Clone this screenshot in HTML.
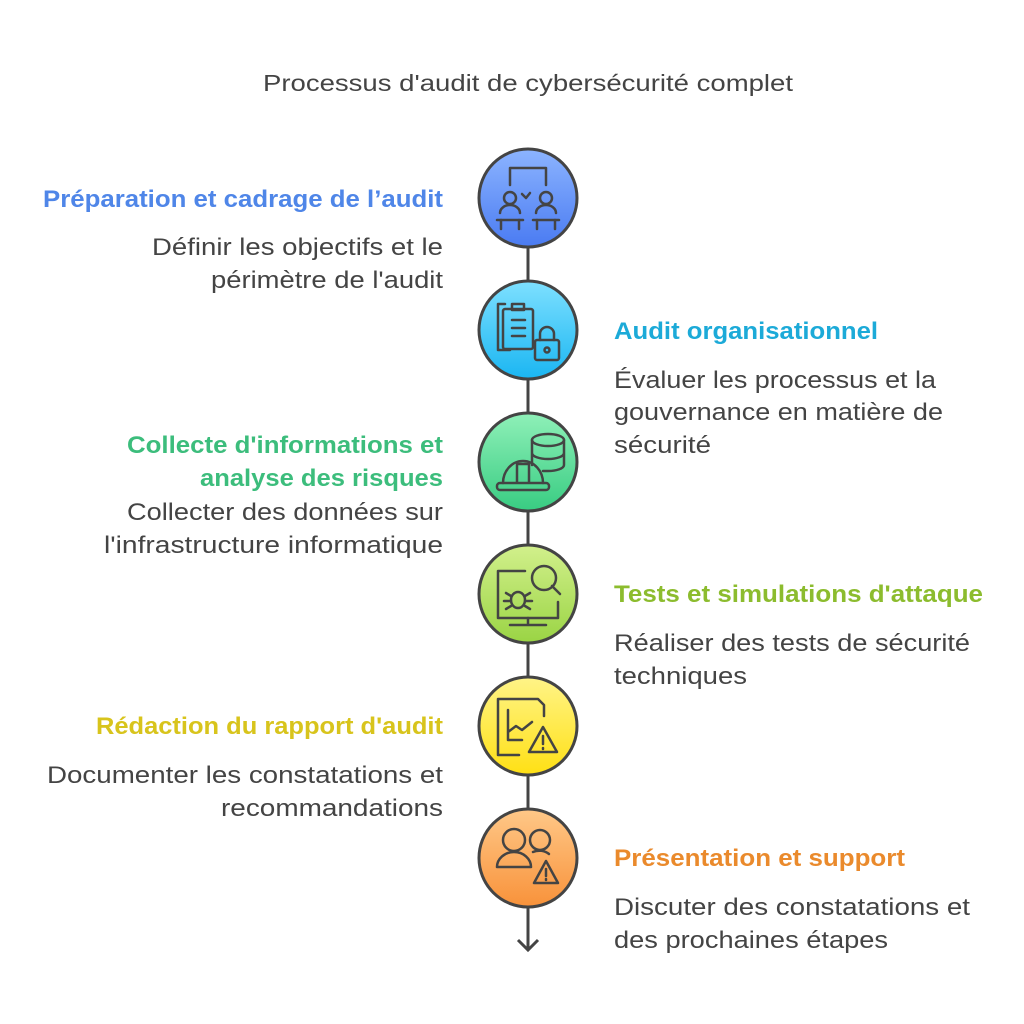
<!DOCTYPE html>
<html><head><meta charset="utf-8"><style>html,body{margin:0;padding:0;background:#fff}svg{display:block}</style></head>
<body>
<svg width="1024" height="1024" viewBox="0 0 1024 1024" xmlns="http://www.w3.org/2000/svg" font-family="'Liberation Sans', sans-serif">
<defs>
<linearGradient id="g1" x1="0" y1="0" x2="0" y2="1"><stop offset="0" stop-color="#8cb4ff"/><stop offset="1" stop-color="#4a7bf2"/></linearGradient>
<linearGradient id="g2" x1="0" y1="0" x2="0" y2="1"><stop offset="0" stop-color="#7ee0ff"/><stop offset="1" stop-color="#1ab6f2"/></linearGradient>
<linearGradient id="g3" x1="0" y1="0" x2="0" y2="1"><stop offset="0" stop-color="#8ff0b8"/><stop offset="1" stop-color="#38cc82"/></linearGradient>
<linearGradient id="g4" x1="0" y1="0" x2="0" y2="1"><stop offset="0" stop-color="#d2f08c"/><stop offset="1" stop-color="#9ad444"/></linearGradient>
<linearGradient id="g5" x1="0" y1="0" x2="0" y2="1"><stop offset="0" stop-color="#fff488"/><stop offset="1" stop-color="#ffe014"/></linearGradient>
<linearGradient id="g6" x1="0" y1="0" x2="0" y2="1"><stop offset="0" stop-color="#ffc888"/><stop offset="1" stop-color="#f8923a"/></linearGradient>
</defs>

<text x="263" y="91" font-size="23" fill="#444" textLength="530" lengthAdjust="spacingAndGlyphs">Processus d'audit de cybersécurité complet</text>

<g stroke="#444" stroke-width="3" fill="none">
<line x1="528" y1="240" x2="528" y2="948"/>
<polyline points="518,940 528,950 538,940"/>
</g>

<g stroke="#444" stroke-width="3">
<circle cx="528" cy="198" r="49" fill="url(#g1)"/>
<circle cx="528" cy="330" r="49" fill="url(#g2)"/>
<circle cx="528" cy="462" r="49" fill="url(#g3)"/>
<circle cx="528" cy="594" r="49" fill="url(#g4)"/>
<circle cx="528" cy="726" r="49" fill="url(#g5)"/>
<circle cx="528" cy="858" r="49" fill="url(#g6)"/>
</g>

<g stroke="#444" stroke-width="2.5" fill="none" stroke-linecap="round" stroke-linejoin="round">
<polyline points="510,185 510,168 546,168 546,185"/>
<circle cx="510" cy="198" r="6"/><circle cx="546" cy="198" r="6"/>
<path d="M522,194 l4,4 l4,-5"/>
<path d="M500,213 a10,8 0 0 1 20,0 M536,213 a10,8 0 0 1 20,0"/>
<line x1="497" y1="220" x2="523" y2="220"/><line x1="533" y1="220" x2="559" y2="220"/>
<path d="M501,220 v9 M519,220 v9 M537,220 v9 M555,220 v9"/>
<path d="M505,304 h-7 v46 h12"/>
<rect x="503" y="309" width="30" height="40" rx="2"/>
<path d="M512,304 h12 v6 h-12 z"/>
<path d="M512,320 h13 M512,328 h13 M512,336 h13"/>
<rect x="535" y="340" width="24" height="20" rx="2"/>
<path d="M540,340 v-6 a7,7 0 0 1 14,0 v6"/>
<circle cx="547" cy="350" r="2.5"/>
<ellipse cx="548" cy="440" rx="16" ry="6"/>
<path d="M532,440 v25 M564,440 v25 a16,6 0 0 1 -16,6 h-5 M532,453 a16,6 0 0 0 32,0"/>
<path d="M503,483 a20,22 0 0 1 40,0"/>
<path d="M517,464 v18 M529,464 v18 M517,464 h12"/>
<rect x="497" y="483" width="52" height="7" rx="3"/>
<path d="M525,571 h-27 v47 h60 v-16"/>
<circle cx="544" cy="578" r="12"/><line x1="552" y1="586" x2="560" y2="594"/>
<path d="M510,625 h36 M528,618 v7"/>
<ellipse cx="518" cy="600" rx="7" ry="8"/>
<path d="M506,593 l5,3 M530,593 l-5,3 M504,601 h7 M532,601 h-7 M506,609 l5,-3 M530,609 l-5,-3"/>
<path d="M519,755 h-21 v-56 h40 l6,6 v11"/>
<path d="M508,710 v30 h14 M508,732 l8,-6 l6,4 l10,-8"/>
<path d="M543,727 l-14,25 h28 z"/>
<path d="M543,736 v8 M543,748 v1"/>
<circle cx="514" cy="840" r="11"/><circle cx="540" cy="840" r="10"/>
<path d="M497,867 a17,15 0 0 1 34,0 z"/>
<path d="M533,852 a14,12 0 0 1 16,2"/>
<path d="M546,861 l-12,22 h24 z"/>
<path d="M546,869 v7 M546,879 v1"/>
</g>

<g font-size="24.5">
<g font-weight="bold">
<text x="43" y="207" fill="#4f86e8" textLength="400" lengthAdjust="spacingAndGlyphs">Préparation et cadrage de l’audit</text>
<text x="614" y="339" fill="#1caad8" textLength="264" lengthAdjust="spacingAndGlyphs">Audit organisationnel</text>
<text x="127" y="453" fill="#3cbd7c" textLength="316" lengthAdjust="spacingAndGlyphs">Collecte d'informations et</text>
<text x="200" y="486" fill="#3cbd7c" textLength="243" lengthAdjust="spacingAndGlyphs">analyse des risques</text>
<text x="614" y="602" fill="#8cbc2e" textLength="369" lengthAdjust="spacingAndGlyphs">Tests et simulations d'attaque</text>
<text x="96" y="734" fill="#d8c41c" textLength="347" lengthAdjust="spacingAndGlyphs">Rédaction du rapport d'audit</text>
<text x="614" y="866" fill="#ea8a2c" textLength="291" lengthAdjust="spacingAndGlyphs">Présentation et support</text>
</g>
<g fill="#444">
<text x="152" y="255" textLength="291" lengthAdjust="spacingAndGlyphs">Définir les objectifs et le</text>
<text x="211" y="288" textLength="232" lengthAdjust="spacingAndGlyphs">périmètre de l'audit</text>
<text x="614" y="388" textLength="322" lengthAdjust="spacingAndGlyphs">Évaluer les processus et la</text>
<text x="614" y="420" textLength="329" lengthAdjust="spacingAndGlyphs">gouvernance en matière de</text>
<text x="614" y="453" textLength="97" lengthAdjust="spacingAndGlyphs">sécurité</text>
<text x="127" y="520" textLength="316" lengthAdjust="spacingAndGlyphs">Collecter des données sur</text>
<text x="104" y="553" textLength="339" lengthAdjust="spacingAndGlyphs">l'infrastructure informatique</text>
<text x="614" y="651" textLength="356" lengthAdjust="spacingAndGlyphs">Réaliser des tests de sécurité</text>
<text x="614" y="684" textLength="133" lengthAdjust="spacingAndGlyphs">techniques</text>
<text x="47" y="783" textLength="396" lengthAdjust="spacingAndGlyphs">Documenter les constatations et</text>
<text x="221" y="816" textLength="222" lengthAdjust="spacingAndGlyphs">recommandations</text>
<text x="614" y="915" textLength="356" lengthAdjust="spacingAndGlyphs">Discuter des constatations et</text>
<text x="614" y="948" textLength="274" lengthAdjust="spacingAndGlyphs">des prochaines étapes</text>
</g>
</g>
</svg>
</body></html>
